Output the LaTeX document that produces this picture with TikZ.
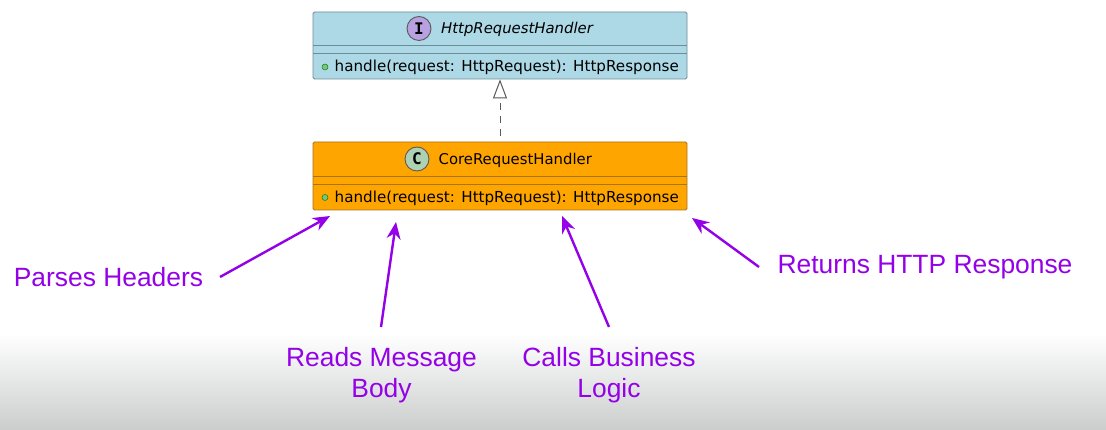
\documentclass[tikz,border=0pt]{standalone}
\usepackage{fontspec}
\usepackage{xcolor}
\setmainfont{Liberation Sans}
\newfontfamily\umlfont{DejaVu Sans}
\newfontfamily\badgefont{DejaVu Sans Mono}
\usetikzlibrary{arrows.meta,shapes.geometric}
\definecolor{ifaceblue}{HTML}{ADD8E6}
\definecolor{ifaceline}{HTML}{6E8C96}
\definecolor{coreorange}{HTML}{FFA500}
\definecolor{coreline}{HTML}{A8741A}
\definecolor{notepurple}{HTML}{9400E8}
\definecolor{badgepurple}{HTML}{B9A0E0}
\definecolor{badgegreen}{HTML}{ADD1B2}
\definecolor{dotgreen}{HTML}{84BE84}
\definecolor{pagegrey}{HTML}{CBCDCD}
\tikzset{
  classbox/.style={draw=#1,line width=0.8pt,rounded corners=1.5pt,minimum width=374pt,inner sep=0pt},
  badge/.style={circle,draw=#1,line width=0.9pt,minimum size=24pt,inner sep=0pt,font=\badgefont\bfseries\fontsize{16}{16}\selectfont},
  classname/.style={font=\umlfont\fontsize{14.85}{16}\selectfont,inner sep=0pt},
  member/.style={font=\umlfont\fontsize{15.15}{16}\selectfont,anchor=west,inner sep=0pt},
  notetext/.style={font=\fontsize{26.4}{31}\selectfont,text=notepurple,align=center,inner sep=0pt},
  notearrow/.style={-{Stealth[length=17pt,width=14pt]},line width=2.4pt,notepurple},
  realizes/.style={-{Triangle[open,length=19pt,width=14pt,fill=white]},dashed,dash pattern=on 7pt off 6pt,line width=1pt,black!65}
}
\begin{document}
\begin{tikzpicture}[x=1pt,y=1pt]
\useasboundingbox (0,0) rectangle (1106,430);

% Page background, grey towards the bottom
\fill[white] (0,0) rectangle (1106,430);
\shade[top color=white,bottom color=pagegrey] (0,0) rectangle (1106,96);

% Interface
\node[classbox=ifaceline,fill=ifaceblue,minimum height=67pt] (iface) at (500,384.5) {};
\draw[ifaceline,line width=0.7pt] (313,385) -- (687,385);
\draw[ifaceline,line width=0.7pt] (313,377) -- (687,377);
\node[badge=black!65,fill=badgepurple] (ibadge) at (419,401.5) {I};
\node[classname,anchor=west] (iname) at (441,400.5) {\itshape HttpRequestHandler};
\fill[dotgreen,draw=black!45!green,line width=0.5pt] (325,363) circle (3pt);
\node[member] (imember) at (334.5,362.5) {handle(request: HttpRequest): HttpResponse};

% Core class
\node[classbox=coreline,fill=coreorange,minimum height=68pt] (core) at (500,254) {};
\draw[coreline,line width=0.7pt] (313,254) -- (687,254);
\draw[coreline,line width=0.7pt] (313,246) -- (687,246);
\node[badge=black!65,fill=badgegreen] (cbadge) at (417,271) {C};
\node[classname,anchor=west] (cname) at (438.5,270) {CoreRequestHandler};
\fill[dotgreen,draw=black!45!green,line width=0.5pt] (325,232.5) circle (3pt);
\node[member] (cmember) at (334.5,232) {handle(request: HttpRequest): HttpResponse};

% Realization
\draw[realizes] (core.north) ++(0,6) coordinate (coretop) -- (iface.south);

% Notes
\node[notetext] (headers) at (108.5,153) {Parses Headers};
\node[notetext] (body) at (381.5,55) {Reads Message\\Body};
\node[notetext] (logic) at (609,55) {Calls Business\\Logic};
\node[notetext] (response) at (925,162.5) {Returns HTTP Response};

\coordinate (headersfrom) at (220,153);
\coordinate (headersto) at (330,214);
\coordinate (bodyfrom) at (381,103);
\coordinate (bodyto) at (396,208);
\coordinate (logicfrom) at (609,103);
\coordinate (logicto) at (562,214);
\coordinate (responsefrom) at (759,163);
\coordinate (responseto) at (692,212);

\draw[notearrow] (headersfrom) -- (headersto);
\draw[notearrow] (bodyfrom) -- (bodyto);
\draw[notearrow] (logicfrom) -- (logicto);
\draw[notearrow] (responsefrom) -- (responseto);
\end{tikzpicture}
\end{document}
